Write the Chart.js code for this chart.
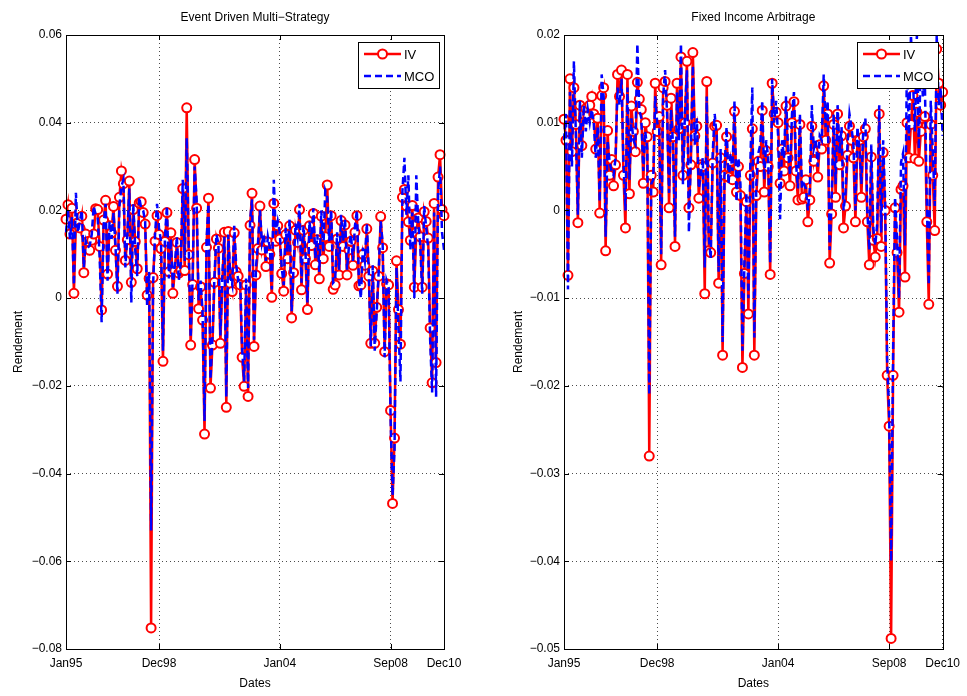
<!DOCTYPE html>
<html>
<head>
<meta charset="utf-8">
<script src="https://cdn.jsdelivr.net/npm/chart.js@4.4.0/dist/chart.umd.min.js"></script>
<style>
  html, body { margin: 0; padding: 0; background: #fff; }
  #wrap { position: relative; width: 967px; height: 696px; }
  canvas { position: absolute; top: 0; }
  #c1 { left: 0; }
  #c2 { left: 500px; }
</style>
</head>
<body>
<div id="wrap">
  <canvas id="c1" width="470" height="696"></canvas>
  <canvas id="c2" width="467" height="696"></canvas>
</div>
<script>

// monthly dates Jan95 .. Dec10
const monthNames = ['Jan','Feb','Mar','Apr','May','Jun','Jul','Aug','Sep','Oct','Nov','Dec']
const dates = []
for (let yr = 1995; yr <= 2010; yr++) {
  monthNames.forEach(m => dates.push(m + String(yr).slice(2)))
}
const shownDates = ['Jan95', 'Dec98', 'Jan04', 'Sep08', 'Dec10']

// Event Driven Multi-Strategy
const edIV = [
  0.0180, 0.0213, 0.0146, 0.0205, 0.0011, 0.0169, 0.0172, 0.0160, 0.0187, 0.0058,
  0.0146, 0.0129, 0.0109, 0.0132, 0.0146, 0.0204, 0.0202, 0.0118, -0.0027, 0.0178,
  0.0223, 0.0055, 0.0165, 0.0149, 0.0209, 0.0109, 0.0027, 0.0230, 0.0290, 0.0261,
  0.0086, 0.0133, 0.0267, 0.0036, 0.0202, 0.0129, 0.0067, 0.0217, 0.0220, 0.0195,
  0.0169, 0.0007, 0.0045, -0.0752, 0.0047, 0.0130, 0.0188, 0.0145, 0.0113, -0.0144,
  0.0129, 0.0195, 0.0060, 0.0149, 0.0011, 0.0062, 0.0127, 0.0057, 0.0063, 0.0250,
  0.0063, 0.0434, 0.0099, -0.0107, 0.0031, 0.0316, 0.0205, -0.0024, 0.0026, -0.0050,
  -0.0310, 0.0116, 0.0228, -0.0205, -0.0107, 0.0036, 0.0135, 0.0114, -0.0103, 0.0035,
  0.0150, -0.0249, 0.0152, 0.0034, 0.0015, 0.0149, 0.0060, 0.0050, 0.0030, -0.0135,
  -0.0201, 0.0030, -0.0224, 0.0166, 0.0239, -0.0110, 0.0053, 0.0113, 0.0210, 0.0110,
  0.0130, 0.0072, 0.0128, 0.0100, 0.0002, 0.0216, 0.0130, 0.0165, 0.0135, 0.0056,
  0.0016, 0.0145, 0.0090, 0.0165, -0.0045, 0.0058, 0.0155, 0.0127, 0.0202, 0.0019,
  0.0155, 0.0090, -0.0026, 0.0165, 0.0120, 0.0193, 0.0076, 0.0133, 0.0044, 0.0187,
  0.0090, 0.0140, 0.0258, 0.0118, 0.0188, 0.0020, 0.0030, 0.0135, 0.0053, 0.0177,
  0.0118, 0.0167, 0.0053, 0.0110, 0.0130, 0.0075, 0.0150, 0.0188, 0.0028, 0.0030,
  0.0100, 0.0075, 0.0158, 0.0050, -0.0103, 0.0062, -0.0103, -0.0021, 0.0050, 0.0186,
  0.0115, -0.0122, 0.0033, 0.0030, -0.0256, -0.0468, -0.0319, 0.0085, -0.0026, -0.0105,
  0.0230, 0.0248, 0.0210, 0.0174, 0.0132, 0.0211, 0.0025, 0.0150, 0.0183, 0.0140,
  0.0025, 0.0197, 0.0175, 0.0137, -0.0068, -0.0193, 0.0216, -0.0147, 0.0276, 0.0327,
  0.0202, 0.0188
]
const edMCO = [
  0.0150, 0.0200, 0.0135, 0.0185, 0.0030, 0.0240, 0.0150, 0.0175, 0.0200, 0.0070,
  0.0130, 0.0115, 0.0120, 0.0145, 0.0210, 0.0190, 0.0185, 0.0095, -0.0055, 0.0165,
  0.0215, 0.0040, 0.0175, 0.0135, 0.0195, 0.0120, 0.0010, 0.0210, 0.0255, 0.0270,
  0.0070, 0.0145, 0.0250, -0.0010, 0.0215, 0.0110, 0.0050, 0.0230, 0.0205, 0.0200,
  0.0175, -0.0020, 0.0060, -0.0530, 0.0030, 0.0145, 0.0215, 0.0160, 0.0130, -0.0120,
  0.0140, 0.0210, 0.0045, 0.0135, 0.0025, 0.0075, 0.0140, 0.0040, 0.0080, 0.0270,
  0.0085, 0.0365, 0.0120, -0.0090, 0.0050, 0.0300, 0.0225, -0.0005, 0.0040, -0.0030,
  -0.0280, 0.0130, 0.0215, -0.0185, -0.0090, 0.0050, 0.0145, 0.0125, -0.0085, 0.0050,
  0.0140, -0.0225, 0.0145, 0.0050, 0.0030, 0.0165, 0.0075, 0.0040, 0.0045, -0.0115,
  -0.0190, 0.0045, -0.0205, 0.0175, 0.0225, -0.0095, 0.0070, 0.0125, 0.0200, 0.0125,
  0.0145, 0.0085, 0.0140, 0.0115, 0.0020, 0.0270, 0.0145, 0.0175, 0.0150, 0.0070,
  0.0030, 0.0160, 0.0105, 0.0180, -0.0030, 0.0070, 0.0170, 0.0140, 0.0215, 0.0035,
  0.0165, 0.0105, -0.0010, 0.0175, 0.0135, 0.0205, 0.0090, 0.0145, 0.0060, 0.0200,
  0.0105, 0.0245, 0.0230, 0.0130, 0.0200, 0.0035, 0.0040, 0.0150, 0.0065, 0.0190,
  0.0130, 0.0180, 0.0065, 0.0120, 0.0145, 0.0085, 0.0165, 0.0200, 0.0040, 0.0000,
  0.0115, 0.0085, 0.0170, 0.0060, -0.0110, 0.0075, -0.0120, -0.0030, 0.0060, 0.0175,
  0.0125, -0.0135, 0.0040, 0.0025, -0.0270, -0.0450, -0.0345, 0.0070, -0.0070, -0.0190,
  0.0245, 0.0320, 0.0190, 0.0280, 0.0110, 0.0195, 0.0000, 0.0280, 0.0170, 0.0120,
  0.0010, 0.0210, 0.0160, 0.0115, -0.0095, -0.0215, 0.0195, -0.0225, 0.0240, 0.0300,
  0.0150, 0.0110
]

// Fixed Income Arbitrage
const fiIV = [
  0.0104, 0.0080, -0.0074, 0.0150, 0.0067, 0.0140, 0.0098, -0.0014, 0.0120, 0.0074,
  0.0110, 0.0116, 0.0108, 0.0120, 0.0130, 0.0110, 0.0070, 0.0105, -0.0003, 0.0131,
  0.0140, -0.0046, 0.0091, 0.0040, 0.0058, 0.0028, 0.0052, 0.0155, 0.0130, 0.0160,
  0.0040, -0.0020, 0.0155, 0.0019, 0.0119, 0.0090, 0.0067, 0.0146, 0.0127, 0.0115,
  0.0031, 0.0100, 0.0084, -0.0280, 0.0040, 0.0021, 0.0145, 0.0090, 0.0107, -0.0062,
  0.0140, 0.0147, 0.0120, 0.0003, 0.0128, 0.0084, -0.0041, 0.0145, 0.0093, 0.0175,
  0.0040, 0.0100, 0.0170, 0.0003, 0.0052, 0.0180, 0.0085, 0.0096, 0.0014, 0.0052,
  0.0050, -0.0095, 0.0147, -0.0046, -0.0048, 0.0054, 0.0096, 0.0097, -0.0083, 0.0060,
  -0.0165, 0.0040, 0.0084, 0.0038, 0.0056, 0.0035, 0.0113, 0.0021, 0.0050, 0.0017,
  -0.0179, -0.0072, 0.0010, -0.0118, 0.0040, 0.0093, -0.0165, 0.0017, 0.0056, 0.0050,
  0.0114, 0.0021, 0.0068, 0.0050, -0.0073, 0.0145, 0.0110, 0.0112, 0.0100, 0.0031,
  0.0070, 0.0045, 0.0119, 0.0060, 0.0028, 0.0100, 0.0124, 0.0045, 0.0012, 0.0098,
  0.0013, 0.0015, 0.0035, -0.0013, 0.0012, 0.0096, 0.0056, 0.0068, 0.0038, 0.0075,
  0.0070, 0.0142, 0.0080, 0.0110, -0.0060, -0.0004, 0.0098, 0.0015, 0.0110, 0.0052,
  0.0085, -0.0020, 0.0005, 0.0063, 0.0096, 0.0080, 0.0060, -0.0013, 0.0080, 0.0080,
  0.0015, 0.0084, 0.0093, -0.0013, -0.0062, 0.0061, -0.0034, -0.0053, -0.0032, 0.0110,
  -0.0041, 0.0066, 0.0000, -0.0188, -0.0246, -0.0488, -0.0188, 0.0003, -0.0048, -0.0116,
  0.0024, 0.0028, -0.0076, 0.0100, 0.0060, 0.0098, 0.0131, 0.0059, 0.0112, 0.0056,
  0.0090, 0.0105, 0.0107, -0.0013, -0.0107, 0.0098, 0.0040, -0.0023, 0.0184, 0.0145,
  0.0120, 0.0135
]
const fiMCO = [
  0.0080, 0.0110, -0.0090, 0.0135, 0.0050, 0.0170, 0.0085, -0.0005, 0.0125, 0.0060,
  0.0120, 0.0090, 0.0115, 0.0100, 0.0115, 0.0100, 0.0060, 0.0095, 0.0010, 0.0155,
  0.0130, -0.0030, 0.0080, 0.0055, 0.0045, 0.0040, 0.0060, 0.0140, 0.0120, 0.0150,
  0.0055, 0.0000, 0.0140, 0.0035, 0.0105, 0.0080, 0.0075, 0.0190, 0.0115, 0.0105,
  0.0045, 0.0090, 0.0070, -0.0210, 0.0030, 0.0035, 0.0130, 0.0100, 0.0095, -0.0050,
  0.0130, 0.0160, 0.0110, 0.0020, 0.0115, 0.0075, -0.0030, 0.0135, 0.0080, 0.0190,
  0.0030, 0.0110, 0.0160, -0.0025, 0.0065, 0.0165, 0.0075, 0.0105, 0.0025, 0.0040,
  0.0060, -0.0065, 0.0130, -0.0030, -0.0055, 0.0065, 0.0110, 0.0085, -0.0070, 0.0070,
  -0.0150, 0.0050, 0.0095, 0.0030, 0.0065, 0.0045, 0.0125, 0.0010, 0.0060, 0.0030,
  -0.0160, -0.0060, 0.0020, -0.0100, 0.0055, 0.0140, -0.0145, 0.0030, 0.0065, 0.0075,
  0.0125, 0.0035, 0.0080, 0.0060, -0.0060, 0.0150, 0.0100, 0.0125, 0.0085, -0.0010,
  0.0080, 0.0060, 0.0130, 0.0070, 0.0040, 0.0110, 0.0135, 0.0055, 0.0025, 0.0110,
  0.0025, 0.0030, 0.0025, 0.0000, 0.0025, 0.0120, 0.0070, 0.0080, 0.0050, 0.0085,
  0.0080, 0.0155, 0.0095, 0.0125, -0.0045, 0.0010, 0.0110, 0.0030, 0.0120, 0.0065,
  0.0095, 0.0000, 0.0020, 0.0075, 0.0110, 0.0095, 0.0075, 0.0000, 0.0095, 0.0070,
  0.0030, 0.0095, 0.0105, 0.0000, -0.0045, 0.0075, -0.0020, -0.0040, -0.0015, 0.0120,
  -0.0025, 0.0080, 0.0010, -0.0170, -0.0230, -0.0400, -0.0160, 0.0015, -0.0030, -0.0100,
  0.0055, 0.0065, -0.0040, 0.0175, 0.0080, 0.0200, 0.0150, 0.0090, 0.0200, 0.0070,
  0.0180, 0.0130, 0.0150, 0.0010, -0.0085, 0.0125, 0.0070, 0.0005, 0.0200, 0.0120,
  0.0140, 0.0085
]

const seriesNames = ['IV', 'MCO']

Chart.defaults.font.family = '"Liberation Sans", Arial, sans-serif'
Chart.defaults.color = '#000'

// title centred over the axes (not over the whole canvas)
const axesTitle = {
  id: 'axesTitle',
  afterDraw(chart, args, opts) {
    const {ctx, chartArea: a} = chart
    ctx.save()
    ctx.font = '12px "Liberation Sans", Arial, sans-serif'
    ctx.fillStyle = '#000'
    ctx.textAlign = 'center'
    ctx.textBaseline = 'middle'
    ctx.fillText(opts.text, (a.left + a.right) / 2, a.top - 17)
    ctx.restore()
  }
}

// black box round the plot area with small inward ticks, like matlab
const frame = {
  id: 'frame',
  afterDatasetsDraw(chart) {
    const {ctx, chartArea: a, scales} = chart
    ctx.save()
    ctx.strokeStyle = '#000'
    ctx.lineWidth = 1
    ctx.strokeRect(Math.round(a.left) + 0.5, Math.round(a.top) + 0.5,
      Math.round(a.right - a.left), Math.round(a.bottom - a.top))
    ctx.beginPath()
    scales.x.ticks.forEach(t => {
      const px = Math.round(scales.x.getPixelForValue(t.value)) + 0.5
      ctx.moveTo(px, a.bottom); ctx.lineTo(px, a.bottom - 5)
      ctx.moveTo(px, a.top); ctx.lineTo(px, a.top + 5)
    })
    scales.y.ticks.forEach(t => {
      const py = Math.round(scales.y.getPixelForValue(t.value)) + 0.5
      ctx.moveTo(a.left, py); ctx.lineTo(a.left + 5, py)
      ctx.moveTo(a.right, py); ctx.lineTo(a.right - 5, py)
    })
    ctx.stroke()
    ctx.restore()
  }
}

// legend box in the top right corner of the axes
const legendBox = {
  id: 'legendBox',
  afterDraw(chart) {
    const {ctx, chartArea: a} = chart
    const w = 81, h = 46
    const x = Math.round(a.right - 5 - w), y = Math.round(a.top + 7)
    ctx.save()
    ctx.fillStyle = '#fff'
    ctx.fillRect(x, y, w, h)
    ctx.strokeStyle = '#000'
    ctx.lineWidth = 1
    ctx.strokeRect(x + 0.5, y + 0.5, w, h)
    ctx.font = '13px "Liberation Sans", Arial, sans-serif'
    ctx.textBaseline = 'middle'
    seriesNames.forEach((name, k) => {
      const ds = chart.data.datasets.find(d => d.label === name)
      const ly = y + 12 + k * 22
      ctx.strokeStyle = ds.borderColor
      ctx.lineWidth = ds.borderWidth
      ctx.setLineDash(ds.borderDash || [])
      ctx.beginPath()
      ctx.moveTo(x + 6, ly)
      ctx.lineTo(x + 43, ly)
      ctx.stroke()
      ctx.setLineDash([])
      if (ds.pointRadius > 0) {
        ctx.beginPath()
        ctx.arc(x + 24.5, ly, ds.pointRadius, 0, Math.PI * 2)
        ctx.fillStyle = ds.pointBackgroundColor
        ctx.fill()
        ctx.lineWidth = ds.pointBorderWidth
        ctx.stroke()
      }
      ctx.fillStyle = '#000'
      ctx.fillText(name, x + 46, ly + 1)
    })
    ctx.restore()
  }
}

function fmtTick(v) {
  if (Math.abs(v) < 1e-9) return '0'
  return v.toFixed(2).replace('-', '\u2212')
}

function makeChart(id, title, iv, mco, yMin, yMax, yStep, axisWidth, padRight) {
  return new Chart(document.getElementById(id), {
    type: 'line',
    data: {
      labels: dates,
      datasets: [
        {
          label: 'MCO',
          data: mco,
          borderColor: '#0000ff',
          borderWidth: 2.5,
          borderDash: [7, 4],
          pointRadius: 0,
          order: 0
        },
        {
          label: 'IV',
          data: iv,
          borderColor: '#ff0000',
          borderWidth: 2.5,
          pointRadius: 4.5,
          pointBorderWidth: 2,
          pointBorderColor: '#ff0000',
          pointBackgroundColor: '#ffffff',
          order: 1
        }
      ]
    },
    options: {
      responsive: false,
      animation: false,
      events: [],
      layout: { padding: { left: 0, right: padRight, top: 35, bottom: 0 } },
      plugins: {
        legend: { display: false },
        tooltip: { enabled: false },
        title: { display: false },
        axesTitle: { text: title }
      },
      scales: {
        x: {
          type: 'category',
          offset: false,
          afterBuildTicks: axis => {
            axis.ticks = axis.ticks.filter(t => shownDates.includes(dates[t.value]))
          },
          afterFit: axis => { axis.height = 47 },
          ticks: {
            autoSkip: false,
            maxRotation: 0,
            padding: 7,
            color: '#000',
            font: { size: 12 },
            callback: function (v) { return this.getLabelForValue(v) }
          },
          grid: { color: 'rgba(0,0,0,0.7)', lineWidth: 1, drawTicks: false },
          border: { display: false, dash: [1, 3] },
          title: {
            display: true,
            text: 'Dates',
            color: '#000',
            font: { size: 12 },
            padding: { top: 0, bottom: 5 }
          }
        },
        y: {
          min: yMin,
          max: yMax,
          afterFit: axis => { axis.width = axisWidth },
          ticks: {
            stepSize: yStep,
            padding: 4,
            color: '#000',
            font: { size: 12 },
            callback: v => fmtTick(v)
          },
          grid: { color: 'rgba(0,0,0,0.7)', lineWidth: 1, drawTicks: false },
          border: { display: false, dash: [1, 3] },
          title: {
            display: true,
            text: 'Rendement',
            color: '#000',
            font: { size: 12 },
            padding: { top: 11, bottom: 0 }
          }
        }
      }
    },
    plugins: [frame, legendBox, axesTitle]
  })
}

makeChart('c1', 'Event Driven Multi\u2212Strategy', edIV, edMCO, -0.08, 0.06, 0.02, 66, 26)
makeChart('c2', 'Fixed Income Arbitrage', fiIV, fiMCO, -0.05, 0.02, 0.01, 64, 23)

</script>
</body>
</html>
